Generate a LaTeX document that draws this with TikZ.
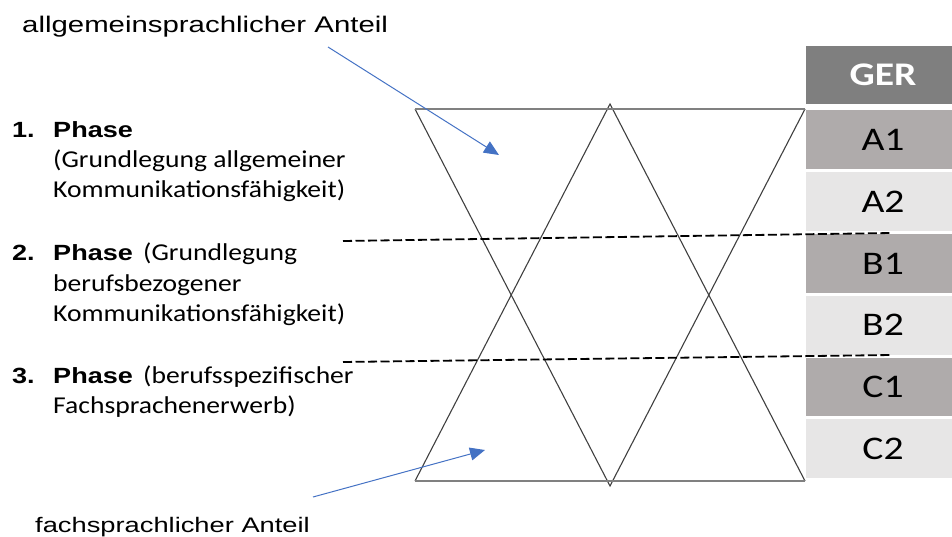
\documentclass[tikz,border=0pt]{standalone}
\usepackage{fontspec}
\usetikzlibrary{arrows.meta}
\newfontfamily\arialw[FakeStretch=1.3]{Liberation Sans}
\newfontfamily\arialb[FakeStretch=1.23]{Liberation Sans}
\newfontfamily\calw[FakeStretch=1.2]{Carlito}
\newfontfamily\calt[FakeStretch=1.14]{Carlito}
\definecolor{gerhead}{HTML}{7F7F7F}
\definecolor{gerdark}{HTML}{AFABAB}
\definecolor{gerlight}{HTML}{E7E6E6}
\definecolor{arrowblue}{HTML}{4472C4}
\definecolor{baseline}{HTML}{808080}
\definecolor{edge}{HTML}{404040}
\tikzset{
  toplabel/.style={anchor=base west, inner sep=0pt, font=\arialw\fontsize{22.6}{27}\selectfont},
  botlabel/.style={anchor=base west, inner sep=0pt, font=\arialw\fontsize{21}{25}\selectfont},
  phasenum/.style={anchor=base west, inner sep=0pt, font=\arialb\bfseries\fontsize{22}{26}\selectfont},
  phasetxt/.style={anchor=base west, inner sep=0pt, font=\calt\fontsize{24.2}{30}\selectfont},
  cell/.style={inner sep=0pt, minimum width=154pt, minimum height=58.8pt, font=\calw\fontsize{33}{38}\selectfont},
  hcell/.style={cell, fill=gerhead, minimum height=58pt, text=white, font=\calw\bfseries\fontsize{33}{38}\selectfont},
  dcell/.style={cell, fill=gerdark},
  lcell/.style={cell, fill=gerlight},
  divider/.style={draw=black, line width=1.8pt, dash pattern=on 9pt off 3.5pt},
  hint/.style={draw=arrowblue, line width=1pt, -{Triangle[length=15pt,width=13pt]}, arrowblue},
  diag/.style={draw=edge, line width=1.1pt},
  base/.style={draw=baseline, line width=1.6pt}
}
\begin{document}
\begin{tikzpicture}[x=1pt,y=-1pt]
\useasboundingbox (0,0) rectangle (952,537);

% GER level column
\node[hcell] (ger) at (883,75) {GER};
\node[dcell] (a1) at (883,139.9) {A1};
\node[lcell] (a2) at (883,201.65) {A2};
\node[dcell] (b1) at (883,263.4) {B1};
\node[lcell] (b2) at (883,325.15) {B2};
\node[dcell] (c1) at (883,386.9) {C1};
\node[lcell] (c2) at (883,448.65) {C2};

% two opposed triangles
\coordinate (tl) at (415,109);
\coordinate (tr) at (805,109);
\coordinate (bapex) at (610,486);
\coordinate (bl) at (415,481);
\coordinate (br) at (805,481);
\coordinate (tapex) at (610,104);
\draw[diag] (tl) -- (bapex) -- (tr);
\draw[diag] (bl) -- (tapex) -- (br);
\draw[base] (tl) -- (tr);
\draw[base] (bl) -- (br);

% phase boundaries
\coordinate (d1a) at (343,241);
\coordinate (d1b) at (892,233);
\coordinate (d2a) at (343,362);
\coordinate (d2b) at (892,355);
\draw[divider] (d1a) -- (d1b);
\draw[divider] (d2a) -- (d2b);

% phases
\node[phasenum] (n1) at (12,138) {1.};
\node[phasenum] (p1) at (53,138) {Phase};
\node[phasetxt] (p1a) at (53,168) {(Grundlegung allgemeiner};
\node[phasetxt] (p1b) at (53,198) {Kommunikationsfähigkeit)};

\node[phasenum] (n2) at (12,260) {2.};
\node[phasenum] (p2) at (53,260) {Phase};
\node[phasetxt] (p2x) at (143,260) {(Grundlegung};
\node[phasetxt] (p2a) at (53,291) {berufsbezogener};
\node[phasetxt] (p2b) at (53,321) {Kommunikationsfähigkeit)};

\node[phasenum] (n3) at (12,383) {3.};
\node[phasenum] (p3) at (53,383) {Phase};
\node[phasetxt] (p3x) at (143,383) {(berufsspezifischer};
\node[phasetxt] (p3a) at (53,413) {Fachsprachenerwerb)};

% share labels with pointers
\node[toplabel] (general) at (22,33) {allgemeinsprachlicher Anteil};
\node[botlabel] (special) at (35,532) {fachsprachlicher Anteil};
\coordinate (g1) at (328,47);
\coordinate (g2) at (499,155);
\coordinate (s1) at (313,497);
\coordinate (s2) at (485,450);
\draw[hint] (g1) -- (g2);
\draw[hint] (s1) -- (s2);
\end{tikzpicture}
\end{document}
